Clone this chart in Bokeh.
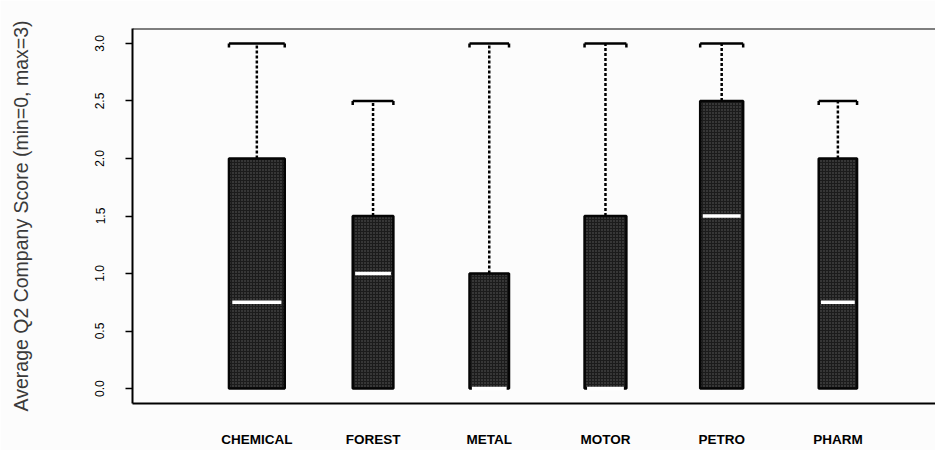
import numpy as np
from bokeh.plotting import figure
from bokeh.models import Range1d, FixedTicker, Span, NumeralTickFormatter
from bokeh.embed import file_html
from bokeh.resources import INLINE

# Five-number summaries per industry
categories = ["CHEMICAL", "FOREST", "METAL", "MOTOR", "PETRO", "PHARM"]
whisker_low = [0.0, 0.0, 0.0, 0.0, 0.0, 0.0]
q1 = [0.0, 0.0, 0.0, 0.0, 0.0, 0.0]
median = [0.75, 1.0, 0.0, 0.0, 1.5, 0.75]
q3 = [2.0, 1.5, 1.0, 1.5, 2.5, 2.0]
whisker_high = [3.0, 2.5, 3.0, 3.0, 3.0, 2.5]
y_ticks = [0.0, 0.5, 1.0, 1.5, 2.0, 2.5, 3.0]

# variable box widths (proportional to group size)
box_width = np.array([0.48, 0.35, 0.34, 0.36, 0.37, 0.33])

pos = np.arange(1, len(categories) + 1)
half = box_width / 2

BG = "#fcfcfc"
p = figure(width=935, height=450,
           x_range=Range1d(-0.07, 6.84), y_range=Range1d(-0.13, 3.13),
           output_backend="svg", toolbar_location=None,
           min_border_left=132, min_border_right=0,
           min_border_top=28, min_border_bottom=47,
           background_fill_color=BG, border_fill_color=BG)
p.outline_line_color = None
p.grid.visible = False

# whiskers (dotted) from box top to maximum
p.segment(x0=pos, x1=pos, y0=q3, y1=whisker_high,
          line_color="black", line_width=2.5, line_dash="3 2")
p.segment(x0=pos, x1=pos, y0=whisker_low, y1=q1,
          line_color="black", line_width=2.5, line_dash="3 2")

# bracket-shaped caps
cap_drop = 0.035
p.segment(x0=pos - half, x1=pos + half, y0=whisker_high, y1=whisker_high,
          line_color="black", line_width=2.5)
p.segment(x0=pos - half, x1=pos - half, y0=whisker_high,
          y1=np.array(whisker_high) - cap_drop, line_color="black", line_width=2.5)
p.segment(x0=pos + half, x1=pos + half, y0=whisker_high,
          y1=np.array(whisker_high) - cap_drop, line_color="black", line_width=2.5)

# stippled dark boxes
p.vbar(x=pos, width=box_width, bottom=q1, top=q3,
       fill_color="#1c1c1c", line_color="#050505", line_width=2.5,
       hatch_pattern="dot", hatch_color="#707070", hatch_scale=3, hatch_weight=1,
       hatch_alpha=0.8)

# white median bars
p.segment(x0=pos - half * 0.88, x1=pos + half * 0.88, y0=median, y1=median,
          line_color="white", line_width=3.5)

# top edge of the frame
p.add_layout(Span(location=p.y_range.end, dimension="width",
                  line_color="black", line_width=2))

# y axis
ya = p.yaxis[0]
ya.ticker = FixedTicker(ticks=y_ticks)
ya.formatter = NumeralTickFormatter(format="0.0")
ya.major_label_orientation = "vertical"
ya.major_label_standoff = 21
ya.major_label_text_font = "Liberation Sans"
ya.major_label_text_font_size = "12px"
ya.major_label_text_color = "black"
ya.major_tick_out = 7
ya.major_tick_in = 0
ya.major_tick_line_width = 1.5
ya.minor_tick_line_color = None
ya.axis_line_width = 2
ya.axis_line_color = "black"
ya.axis_label = "Average Q2 Company Score (min=0, max=3)"
ya.axis_label_text_font = "Liberation Sans"
ya.axis_label_text_font_size = "19.5px"
ya.axis_label_text_font_style = "normal"
ya.axis_label_text_color = "#3a3a3a"
ya.axis_label_standoff = 61

# x axis with industry names
xa = p.xaxis[0]
xa.ticker = FixedTicker(ticks=list(pos))
xa.major_label_overrides = {int(i): c for i, c in zip(pos, categories)}
xa.major_tick_line_color = None
xa.minor_tick_line_color = None
xa.major_label_standoff = 22
xa.major_label_text_font = "Liberation Sans"
xa.major_label_text_font_size = "13.5px"
xa.major_label_text_font_style = "bold"
xa.major_label_text_color = "black"
xa.axis_line_width = 2
xa.axis_line_color = "black"

open("out.html", "w").write(file_html(p, INLINE))
